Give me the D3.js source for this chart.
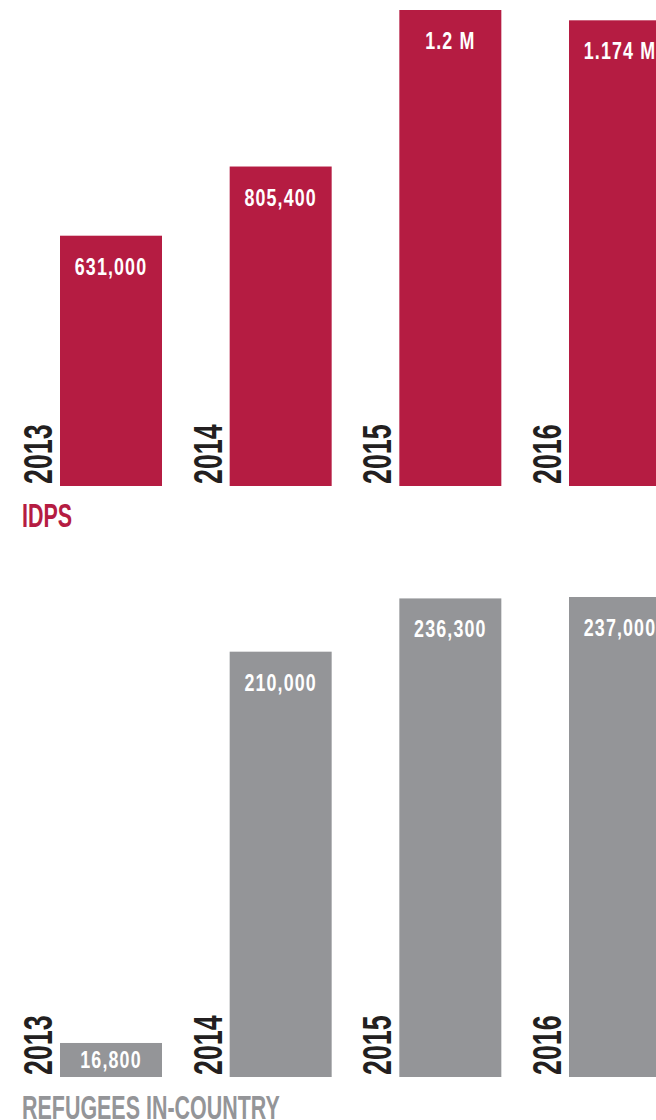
<!DOCTYPE html>
<html>
<head>
<meta charset="utf-8">
<script src="https://cdn.jsdelivr.net/npm/d3@7"></script>
<style>
  body { margin: 0; background: #fff; }
  svg { display: block; }
  text { font-family: "Liberation Sans", Arial, sans-serif; font-weight: bold; }
</style>
</head>
<body>
<svg width="656" height="1120"></svg>
<script>
  const years = ["2013", "2014", "2015", "2016"];

  const idpValues = [631000, 805400, 1200000, 1174000];
  const idpLabels = ["631,000", "805,400", "1.2 M", "1.174 M"];

  const refugeeValues = [16800, 210000, 236300, 237000];
  const refugeeLabels = ["16,800", "210,000", "236,300", "237,000"];

  const red = "#b51c42";
  const grey = "#949598";
  const dark = "#231f20";

  const svg = d3.select("svg");

  // bars start at 60 and repeat every ~170px, last one runs off the page
  const x = d3.scalePoint().domain(years).range([60, 569]);
  const bw = 102;

  // each panel: bars with value labels, rotated years, title underneath
  const drawPanel = (props) => {
    const { values, labels, color, title, baseline, top, maxValue, titleY } = props;

    const y = d3.scaleLinear().domain([0, maxValue]).range([baseline, top]);
    const rows = years.map((yr, i) => ({ yr, v: values[i], label: labels[i] }));

    const g = svg.append("g");

    g.selectAll("rect")
      .data(rows)
      .enter()
      .append("rect")
      .attr("x", (d) => x(d.yr))
      .attr("y", (d) => y(d.v))
      .attr("width", bw)
      .attr("height", (d) => baseline - y(d.v))
      .attr("fill", color);

    g.selectAll(".val")
      .data(rows)
      .enter()
      .append("text")
      .attr("class", "val")
      .attr("transform", (d) => {
        const h = baseline - y(d.v);
        const ty = h < 60 ? y(d.v) + h / 2 + 8 : y(d.v) + 39;
        return `translate(${x(d.yr) + bw / 2},${ty}) scale(0.76,1)`;
      })
      .attr("text-anchor", "middle")
      .attr("fill", "#fff")
      .attr("font-size", 23.5)
      .attr("letter-spacing", 1.5)
      .text((d) => d.label);

    g.selectAll(".yr")
      .data(rows)
      .enter()
      .append("text")
      .attr("class", "yr")
      .attr("transform", (d) => `translate(${x(d.yr) - 8},${baseline - 2}) rotate(-90) scale(0.67,1)`)
      .attr("fill", dark)
      .attr("font-size", 40)
      .text((d) => d.yr);

    svg.append("text")
      .attr("transform", `translate(22,${titleY}) scale(0.65,1)`)
      .attr("fill", color)
      .attr("font-size", 33)
      .text(title);
  };

  drawPanel({
    values: idpValues,
    labels: idpLabels,
    color: red,
    title: "IDPS",
    baseline: 486,
    top: 10,
    maxValue: 1200000,
    titleY: 527,
  });

  drawPanel({
    values: refugeeValues,
    labels: refugeeLabels,
    color: grey,
    title: "REFUGEES IN-COUNTRY",
    baseline: 1077,
    top: 597,
    maxValue: 237000,
    titleY: 1119,
  });
</script>
</body>
</html>
